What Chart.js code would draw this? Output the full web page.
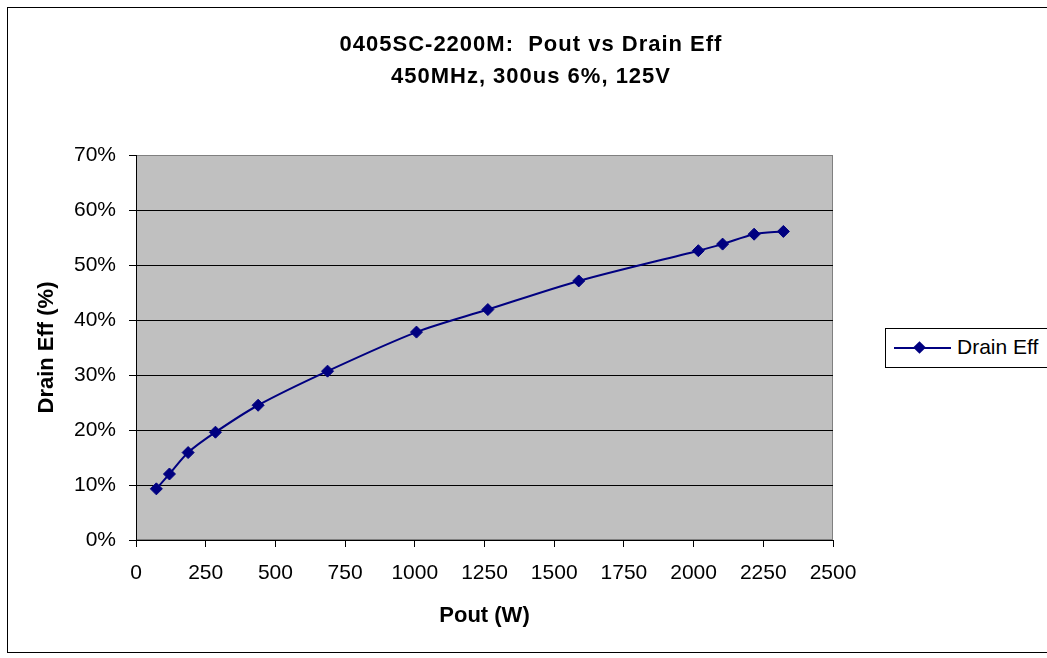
<!DOCTYPE html>
<html lang="en">
<head>
    <meta charset="UTF-8">
    <title>0405SC-2200M: Pout vs Drain Eff</title>
    <script src="https://cdn.jsdelivr.net/npm/chart.js"></script>
    <style>
        body {
            margin: 0;
            background: #fff;
            overflow: hidden;
            font-family: "Liberation Sans", Arial, sans-serif;
        }
        #frame {
            position: absolute;
            left: 7px;
            top: 7px;
            width: 1100px;
            height: 644px;
            border: 1px solid #000;
        }
        #chart {
            position: absolute;
            left: 0;
            top: 0;
        }
        #title {
            position: absolute;
            left: 231px;
            width: 600px;
            top: 28px;
            text-align: center;
            font-weight: bold;
            font-size: 22px;
            line-height: 32px;
            letter-spacing: 1px;
        }
        #legend {
            position: absolute;
            left: 885px;
            top: 328px;
            width: 200px;
            height: 38px;
            border: 1px solid #000;
            background: #fff;
        }
        #legend .line {
            position: absolute;
            left: 8px;
            top: 18px;
            width: 57px;
            height: 2px;
            background: #000080;
        }
        #legend .mark {
            position: absolute;
            left: 29px;
            top: 14px;
            width: 9px;
            height: 9px;
            background: #000080;
            transform: rotate(45deg);
        }
        #legend .text {
            position: absolute;
            left: 71px;
            top: 6px;
            font-size: 21px;
        }
    </style>
</head>
<body>
    <div id="frame"></div>
    <canvas id="chart" width="1047" height="658"></canvas>
    <div id="title">0405SC-2200M:&nbsp; Pout vs Drain Eff<br>450MHz, 300us 6%, 125V</div>
    <div id="legend"><div class="line"></div><div class="mark"></div><div class="text">Drain Eff</div></div>

    <script>
        // values
        const poutW = [73, 120, 187, 285, 438, 687, 1006, 1262, 1588, 2017, 2104, 2217, 2322];
        const drainEff = [9.3, 12.0, 15.9, 19.6, 24.5, 30.7, 37.8, 41.9, 47.1, 52.6, 53.8, 55.6, 56.1];
        const xTicks = [0, 250, 500, 750, 1000, 1250, 1500, 1750, 2000, 2250, 2500];
        const yTicks = [0, 10, 20, 30, 40, 50, 60, 70];

        const points = poutW.map((x, i) => ({ x: x, y: drainEff[i] }));

        // grey plot area with grey frame on top/right
        const plotArea = {
            id: 'plotArea',
            beforeDraw(chart) {
                const a = chart.chartArea;
                const c = chart.ctx;
                c.save();
                c.fillStyle = '#c0c0c0';
                c.fillRect(a.left, a.top, a.right - a.left, a.bottom - a.top);
                c.strokeStyle = '#808080';
                c.lineWidth = 1;
                c.strokeRect(a.left + 0.5, a.top + 0.5, a.right - a.left - 1, a.bottom - a.top - 1);
                c.restore();
            }
        };

        new Chart(document.getElementById('chart'), {
            type: 'scatter',
            data: {
                datasets: [{
                    label: 'Drain Eff',
                    data: points,
                    showLine: true,
                    borderColor: '#000080',
                    backgroundColor: '#000080',
                    borderWidth: 2,
                    tension: 0.3,
                    pointStyle: 'rectRot',
                    pointRadius: 6,
                    pointBorderWidth: 1
                }]
            },
            plugins: [plotArea],
            options: {
                responsive: false,
                animation: false,
                layout: { padding: { top: 155, right: 214, bottom: 0, left: 0 } },
                plugins: {
                    legend: { display: false },
                    title: { display: false },
                    tooltip: { enabled: false }
                },
                scales: {
                    x: {
                        type: 'linear',
                        min: xTicks[0],
                        max: xTicks[xTicks.length - 1],
                        afterBuildTicks: s => { s.ticks = xTicks.map(v => ({ value: v })); },
                        afterFit: s => { s.height = 118; },
                        ticks: {
                            color: '#000',
                            padding: 14,
                            maxRotation: 0,
                            callback: v => String(v),
                            font: { family: 'Liberation Sans', size: 21 }
                        },
                        grid: { drawOnChartArea: false, tickLength: 7, tickColor: '#000' },
                        border: { color: '#000' },
                        title: {
                            display: true,
                            text: 'Pout (W)',
                            color: '#000',
                            padding: { bottom: 29 },
                            font: { family: 'Liberation Sans', size: 22, weight: 'bold' }
                        }
                    },
                    y: {
                        min: yTicks[0],
                        max: yTicks[yTicks.length - 1],
                        afterBuildTicks: s => { s.ticks = yTicks.map(v => ({ value: v })); },
                        afterFit: s => { s.width = 136; },
                        ticks: {
                            color: '#000',
                            padding: 13,
                            callback: v => v + '%',
                            font: { family: 'Liberation Sans', size: 21 }
                        },
                        grid: {
                            color: ctx => (ctx.tick && (ctx.tick.value === 0 || ctx.tick.value === 70)) ? 'rgba(0,0,0,0)' : '#000',
                            tickColor: '#000',
                            tickLength: 7
                        },
                        border: { color: '#000' },
                        title: {
                            display: true,
                            text: 'Drain Eff (%)',
                            color: '#000',
                            padding: { top: 34 },
                            font: { family: 'Liberation Sans', size: 22, weight: 'bold' }
                        }
                    }
                }
            }
        });
    </script>
</body>
</html>
